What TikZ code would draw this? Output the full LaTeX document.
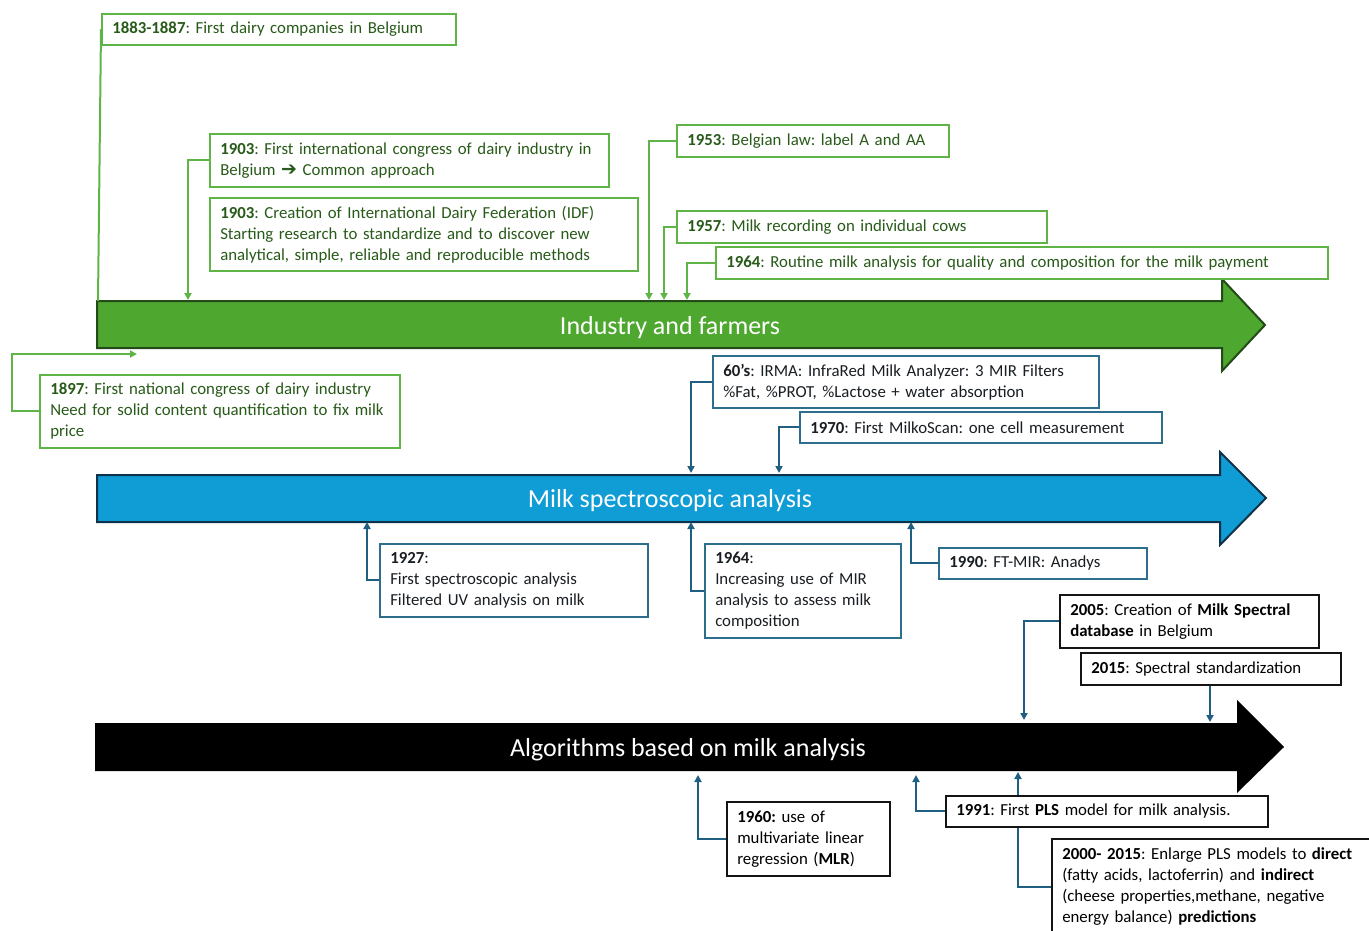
\documentclass[tikz,border=0pt]{standalone}
\usepackage{fontspec}
\setmainfont{Carlito}
\newfontfamily\symb{DejaVu Sans}
\usetikzlibrary{arrows.meta}
\frenchspacing
\definecolor{gbar}{RGB}{78,167,46}
\definecolor{gbarline}{RGB}{35,75,25}
\definecolor{gline}{RGB}{95,180,70}
\definecolor{gtext}{RGB}{40,90,25}
\definecolor{bbar}{RGB}{16,156,213}
\definecolor{bbarline}{RGB}{15,50,75}
\definecolor{bline}{RGB}{45,110,140}
\definecolor{btext}{RGB}{25,30,35}
\definecolor{bconn}{RGB}{30,95,130}
\definecolor{kline}{RGB}{20,20,20}
\tikzset{
  ev/.style={draw, fill=white, anchor=north west, align=left, inner xsep=10.5pt, inner ysep=0pt, line width=1.5pt,
    font=\fontsize{16.8}{21}\selectfont},
  gev/.style={ev, draw=gline, text=gtext},
  bev/.style={ev, draw=bline, text=btext},
  kev/.style={ev, draw=kline, text=black},
  gconn/.style={draw=gline, line width=2pt, -{Triangle[length=7pt,width=7pt]}},
  gconnplain/.style={draw=gline, line width=2pt},
  bconn/.style={draw=bconn, line width=2pt, -{Triangle[length=7pt,width=7pt]}},
  bconnplain/.style={draw=bconn, line width=2pt},
  barlabel/.style={font=\fontsize{26}{30}\selectfont, text=white}
}
\begin{document}
\begin{tikzpicture}[x=1pt,y=-1pt]
\useasboundingbox (0,0) rectangle (1369,930);
\clip (0,0) rectangle (1369,930);
% bars
\draw[fill=gbar, draw=gbarline, line width=2pt, line join=miter] (97,301) -- (1222,301) -- (1222,279) -- (1265,325) -- (1222,371) -- (1222,348) -- (97,348) -- cycle;
\node[barlabel] (lg) at (670,327.5) {Industry and farmers};
\draw[fill=bbar, draw=bbarline, line width=2pt, line join=miter] (97,475) -- (1220,475) -- (1220,452) -- (1266,498) -- (1220,545) -- (1220,522) -- (97,522) -- cycle;
\node[barlabel] (lb) at (670,500.5) {Milk spectroscopic analysis};
\fill[black] (95,723) -- (1237,723) -- (1237,700) -- (1284,747) -- (1237,793) -- (1237,771) -- (95,771) -- cycle;
\node[barlabel] (lk) at (688,749.5) {Algorithms based on milk analysis};
% arrow end coordinates
\coordinate (t1) at (98,301);
\coordinate (t2) at (188,300);
\coordinate (t4) at (649,300);
\coordinate (t5) at (664,300);
\coordinate (t6) at (687,300);
\coordinate (c7) at (12,354);
\coordinate (t7) at (137,354);
\coordinate (t8) at (691,473);
\coordinate (t9) at (779,473);
\coordinate (t10) at (367,522);
\coordinate (t11) at (691,522);
\coordinate (t12) at (911,522);
\coordinate (t13) at (1024,720);
\coordinate (t14) at (1210,722);
\coordinate (t15) at (698,775);
\coordinate (t16) at (916,775);
\coordinate (t17) at (1018,772);
% green events
\node[gev, text width=333pt, minimum height=31pt] (b1) at (101,13) {\textbf{1883-1887}: First dairy companies in Belgium};
\node[gev, text width=378pt, minimum height=53pt] (b2) at (209,133) {\textbf{1903}: First international congress of dairy industry in\\Belgium {\symb\bfseries\fontsize{19}{21}\selectfont ➔} Common approach};
\node[gev, text width=407pt, minimum height=73pt] (b3) at (209,197) {\textbf{1903}: Creation of International Dairy Federation (IDF)\\Starting research to standardize and to discover new\\analytical, simple, reliable and reproducible methods};
\node[gev, text width=251pt, minimum height=32pt] (b4) at (676,124) {\textbf{1953}: Belgian law: label A and AA};
\node[gev, text width=349pt, minimum height=32pt] (b5) at (676,210) {\textbf{1957}: Milk recording on individual cows};
\node[gev, text width=591pt, minimum height=32pt] (b6) at (715,246) {\textbf{1964}: Routine milk analysis for quality and composition for the milk payment};
\node[gev, text width=339pt, minimum height=73pt] (b7) at (39,374) {\textbf{1897}: First national congress of dairy industry\\Need for solid content quantification to fix milk\\price};
% blue events
\node[bev, text width=365pt, minimum height=52pt] (b8) at (712,355) {\textbf{60’s}: IRMA: InfraRed Milk Analyzer: 3 MIR Filters\\\%Fat, \%PROT, \%Lactose + water absorption};
\node[bev, text width=341pt, minimum height=31pt] (b9) at (799,411) {\textbf{1970}: First MilkoScan: one cell measurement};
\node[bev, text width=247pt, minimum height=73pt] (b10) at (379,543) {\textbf{1927}:\\First spectroscopic analysis\\Filtered UV analysis on milk};
\node[bev, text width=175pt, minimum height=94pt] (b11) at (704,543) {\textbf{1964}:\\Increasing use of MIR\\analysis to assess milk\\composition};
\node[bev, text width=187pt, minimum height=31pt] (b12) at (938,547) {\textbf{1990}: FT-MIR: Anadys};
% black events
\node[kev, text width=238pt, minimum height=53pt] (b13) at (1059,594) {\textbf{2005}: Creation of \textbf{Milk Spectral}\\\textbf{database} in Belgium};
\node[kev, text width=239pt, minimum height=32pt] (b14) at (1080,652) {\textbf{2015}: Spectral standardization};
\node[kev, text width=142pt, minimum height=74pt] (b15) at (726,801) {\textbf{1960:} use of\\multivariate linear\\regression (\textbf{MLR})};
\node[kev, text width=301pt, minimum height=31pt] (b16) at (945,795) {\textbf{1991}: First \textbf{PLS} model for milk analysis.};
\node[kev, text width=309pt, minimum height=96pt] (b17) at (1051,838) {\textbf{2000- 2015}: Enlarge PLS models to \textbf{direct}\\(fatty acids, lactoferrin) and \textbf{indirect}\\(cheese properties,methane, negative\\energy balance) \textbf{predictions}};
% green connectors
\draw[gconnplain] (b1.west) -- (t1);
\draw[gconn] (b2.west) -| (t2);
\draw[gconn] (b4.west) -| (t4);
\draw[gconn] (b5.west) -| (t5);
\draw[gconn] (b6.west) -| (t6);
\draw[gconn] (b7.west) -| (c7) -- (t7);
% blue connectors
\draw[bconn] (b8.west) -| (t8);
\draw[bconn] (b9.west) -| (t9);
\draw[bconn] (b10.west) -| (t10);
\draw[bconn] (b11.west) -| (t11);
\draw[bconn] (b12.west) -| (t12);
\draw[bconn] (b13.west) -| (t13);
\draw[bconn] (b14.south -| t14) -- (t14);
\draw[bconn] (b15.west) -| (t15);
\draw[bconn] (b16.west) -| (t16);
\draw[bconnplain] (b17.west) -| (t17 |- b16.south);
\draw[bconn] (t17 |- b16.north) -- (t17);
\end{tikzpicture}
\end{document}
